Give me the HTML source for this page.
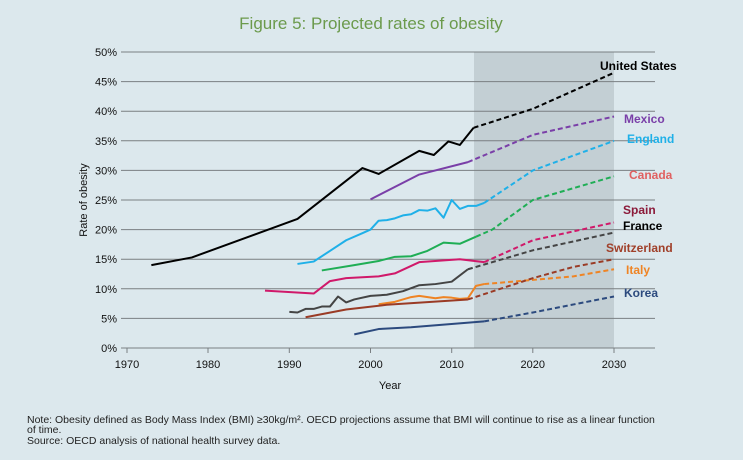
<!DOCTYPE html>
<html><head><meta charset="utf-8"><style>
body{margin:0;background:#dce8ed;}
svg{display:block;font-family:"Liberation Sans",sans-serif;}
</style></head><body>
<svg width="743" height="460" viewBox="0 0 743 460">
<rect width="743" height="460" fill="#dce8ed"/>
<text x="371" y="29" text-anchor="middle" font-size="17" fill="#6b9a4c">Figure 5: Projected rates of obesity</text>
<rect x="474" y="52" width="140" height="296" fill="#c3cfd4"/>
<g stroke="#7a7f82" stroke-width="1">
<line x1="121" y1="52" x2="655" y2="52"/><line x1="121" y1="81.6" x2="655" y2="81.6"/>
<line x1="121" y1="111.2" x2="655" y2="111.2"/><line x1="121" y1="140.8" x2="655" y2="140.8"/>
<line x1="121" y1="170.4" x2="655" y2="170.4"/><line x1="121" y1="200" x2="655" y2="200"/>
<line x1="121" y1="229.6" x2="655" y2="229.6"/><line x1="121" y1="259.2" x2="655" y2="259.2"/>
<line x1="121" y1="288.8" x2="655" y2="288.8"/><line x1="121" y1="318.4" x2="655" y2="318.4"/>
<line x1="121" y1="348" x2="655" y2="348"/>
<line x1="127" y1="348" x2="127" y2="353"/><line x1="208" y1="348" x2="208" y2="353"/>
<line x1="289.3" y1="348" x2="289.3" y2="353"/><line x1="370.5" y1="348" x2="370.5" y2="353"/>
<line x1="451.7" y1="348" x2="451.7" y2="353"/><line x1="532.8" y1="348" x2="532.8" y2="353"/>
<line x1="614" y1="348" x2="614" y2="353"/>
</g>
<g font-size="11" fill="#111" text-anchor="end">
<text x="117" y="56">50%</text><text x="117" y="85.6">45%</text><text x="117" y="115.2">40%</text>
<text x="117" y="144.8">35%</text><text x="117" y="174.4">30%</text><text x="117" y="204">25%</text>
<text x="117" y="233.6">20%</text><text x="117" y="263.2">15%</text><text x="117" y="292.8">10%</text>
<text x="117" y="322.4">5%</text><text x="117" y="352">0%</text>
</g>
<g font-size="11" fill="#111" text-anchor="middle">
<text x="127" y="368">1970</text><text x="208" y="368">1980</text><text x="289.3" y="368">1990</text>
<text x="370.5" y="368">2000</text><text x="451.7" y="368">2010</text><text x="532.8" y="368">2020</text>
<text x="614" y="368">2030</text>
<text x="390" y="389">Year</text>
<text transform="translate(87,200) rotate(-90)" font-size="11">Rate of obesity</text>
</g>
<g transform="translate(127,348) scale(8.117,-5.92) translate(-1970,0)" fill="none" stroke-width="2" stroke-linejoin="round">
<g vector-effect="non-scaling-stroke">
<polyline vector-effect="non-scaling-stroke" stroke="#000" points="1973,14 1978,15.3 1991,21.8 1999,30.4 2001,29.4 2006,33.3 2007.8,32.6 2009.6,34.9 2011,34.3 2012.7,37.2"/>
<polyline vector-effect="non-scaling-stroke" stroke="#000" stroke-dasharray="5,3" points="2012.7,37.2 2020,40.4 2030,46.5"/>
<polyline vector-effect="non-scaling-stroke" stroke="#7a3fa8" points="2000,25.1 2006,29.3 2012,31.4"/>
<polyline vector-effect="non-scaling-stroke" stroke="#7a3fa8" stroke-dasharray="5,3" points="2012,31.4 2020,36 2030,39.1"/>
<polyline vector-effect="non-scaling-stroke" stroke="#1fb0e8" points="1991,14.2 1993,14.6 1995,16.4 1997,18.2 1999,19.4 2000,20 2001,21.5 2002,21.6 2003,21.9 2004,22.4 2005,22.6 2006,23.3 2007,23.2 2008,23.6 2009,22 2010,25 2011,23.5 2012,24 2013,24 2014,24.5"/>
<polyline vector-effect="non-scaling-stroke" stroke="#1fb0e8" stroke-dasharray="5,3" points="2014,24.5 2020,30 2030,35"/>
<polyline vector-effect="non-scaling-stroke" stroke="#1fae55" points="1994,13.1 1998,14 2001,14.7 2003,15.4 2005,15.5 2007,16.4 2009,17.8 2011,17.6 2013,18.8"/>
<polyline vector-effect="non-scaling-stroke" stroke="#1fae55" stroke-dasharray="5,3" points="2013,18.8 2015,20 2020,25 2030,29"/>
<polyline vector-effect="non-scaling-stroke" stroke="#d0196a" points="1987,9.7 1993,9.2 1995,11.3 1997,11.8 2001,12.1 2003,12.6 2006,14.5 2011,15 2014,14.5"/>
<polyline vector-effect="non-scaling-stroke" stroke="#d0196a" stroke-dasharray="5,3" points="2014,14.5 2020,18.2 2030,21.2"/>
<polyline vector-effect="non-scaling-stroke" stroke="#444" points="1990,6.1 1991,6 1992,6.6 1993,6.6 1994,7 1995,7 1996,8.7 1997,7.7 1998,8.2 2000,8.8 2002,9 2004,9.6 2006,10.6 2008,10.8 2010,11.2 2012,13.3"/>
<polyline vector-effect="non-scaling-stroke" stroke="#444" stroke-dasharray="5,3" points="2012,13.3 2020,16.5 2030,19.5"/>
<polyline vector-effect="non-scaling-stroke" stroke="#ef8424" points="2001,7.4 2003,7.8 2005,8.6 2006,8.8 2008,8.4 2009,8.6 2010,8.5 2011,8.3 2012,8.4 2013,10.5 2014,10.8"/>
<polyline vector-effect="non-scaling-stroke" stroke="#ef8424" stroke-dasharray="5,3" points="2014,10.8 2020,11.5 2025,12.1 2030,13.3"/>
<polyline vector-effect="non-scaling-stroke" stroke="#9a3b25" points="1992,5.2 1997,6.5 2002,7.3 2012,8.2"/>
<polyline vector-effect="non-scaling-stroke" stroke="#9a3b25" stroke-dasharray="5,3" points="2012,8.2 2020,11.8 2025,13.7 2030,15"/>
<polyline vector-effect="non-scaling-stroke" stroke="#2c4a7e" points="1998,2.3 2001,3.2 2005,3.5 2014,4.5"/>
<polyline vector-effect="non-scaling-stroke" stroke="#2c4a7e" stroke-dasharray="5,3" points="2014,4.5 2020,6 2030,8.7"/>
</g></g>
<g font-size="12" font-weight="bold">
<text x="600" y="70" fill="#000">United States</text>
<text x="624" y="123" fill="#7a3fa8">Mexico</text>
<text x="627" y="143" fill="#1fb0e8">England</text>
<text x="629" y="179" fill="#e06060">Canada</text>
<text x="623" y="214" fill="#8b1a3a">Spain</text>
<text x="623" y="230" fill="#000">France</text>
<text x="606" y="252" fill="#a0402a">Switzerland</text>
<text x="626" y="274" fill="#ef8424">Italy</text>
<text x="624" y="297" fill="#2c4a7e">Korea</text>
</g>
<g font-size="10.5" fill="#222">
<text x="27" y="423">Note: Obesity defined as Body Mass Index (BMI) ≥30kg/m². OECD projections assume that BMI will continue to rise as a linear function</text>
<text x="27" y="433">of time.</text>
<text x="27" y="444">Source: OECD analysis of national health survey data.</text>
</g>
</svg>
</body></html>
